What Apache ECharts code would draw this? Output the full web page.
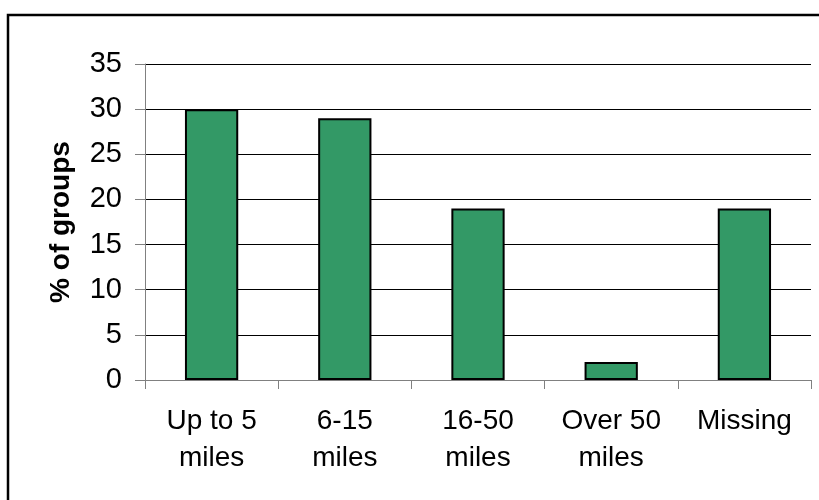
<!DOCTYPE html>
<html>
<head>
<meta charset="utf-8">
<script src="https://cdn.jsdelivr.net/npm/echarts@6/dist/echarts.min.js"></script>
<style>html,body{margin:0;padding:0;background:#fff}#c{width:819px;height:500px}</style>
</head>
<body>
<div id="c"></div>
<script>
var categories = ["Up to 5\nmiles", "6-15\nmiles", "16-50\nmiles", "Over 50\nmiles", "Missing"];
var values = [30, 29, 19, 2, 19];
var yTicks = [0, 5, 10, 15, 20, 25, 30, 35];
var yName = "% of groups";

var chart = echarts.init(document.getElementById('c'), null, {renderer: 'canvas'});
var font = 'Arial, "Liberation Sans", sans-serif';
chart.setOption({
  animation: false,
  backgroundColor: '#fff',
  graphic: [{
    type: 'rect', shape: {x: 8, y: 15, width: 900, height: 600},
    style: {fill: 'none', stroke: '#000', lineWidth: 2.5}, z: 100
  }],
  grid: {left: 145, right: 8, top: 64, bottom: 120},
  xAxis: {
    type: 'category', data: categories, boundaryGap: true,
    axisLine: {lineStyle: {color: '#808080', width: 1}},
    axisTick: {show: true, alignWithLabel: false, length: 9, lineStyle: {color: '#808080'}},
    axisLabel: {color: '#000', fontSize: 28, fontFamily: font, lineHeight: 37, margin: 23, interval: 0}
  },
  yAxis: {
    type: 'value', min: yTicks[0], max: yTicks[yTicks.length - 1], interval: 5,
    name: yName, nameLocation: 'middle', nameGap: 70,
    nameTextStyle: {color: '#000', fontSize: 28, fontWeight: 'bold', fontFamily: font},
    axisLine: {show: true, lineStyle: {color: '#808080', width: 1}},
    axisTick: {show: true, length: 10, lineStyle: {color: '#808080'}},
    axisLabel: {color: '#000', fontSize: 29, fontFamily: font, margin: 23},
    splitLine: {lineStyle: {color: '#000', width: 1}}
  },
  series: [{
    type: 'bar', data: values, barWidth: '40%',
    itemStyle: {color: '#339966', borderColor: '#000', borderWidth: 2}
  }]
});
</script>
</body>
</html>
